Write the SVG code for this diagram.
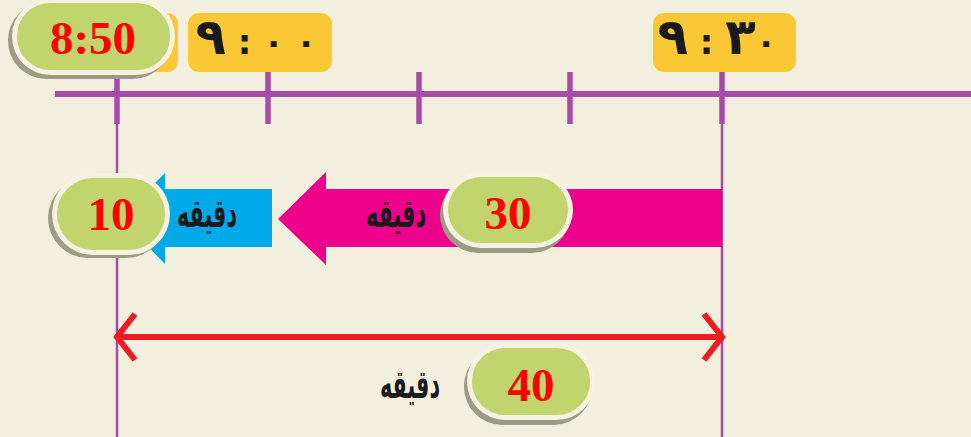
<svg xmlns="http://www.w3.org/2000/svg" width="971" height="437" viewBox="0 0 971 437">
<style>
.bg{fill:#F3EFDE}
.tl{stroke:#A84AA8;stroke-width:6;fill:none}
.tick{stroke:#A84AA8;stroke-width:5.5;fill:none}
.vl{stroke:#A84AA8;stroke-width:2.5;fill:none}
.ybox{fill:#FAC834}
.shadow{fill:#9C9C86}
.rim{fill:#F6F2E2}
.pill{fill:#C1D46D}
.num{font-family:"Liberation Serif",serif;font-weight:bold;font-size:47px;fill:#FF0000;text-anchor:middle}
.ar{font-family:"DejaVu Sans",sans-serif;font-weight:bold;font-size:40px;fill:#1A1A1A;text-anchor:middle}
.time{font-family:"DejaVu Sans",sans-serif;font-weight:bold;font-size:34px;fill:#1A1A1A;text-anchor:middle;direction:ltr;unicode-bidi:bidi-override}
.big{font-size:50px}
.red{stroke:#EC1C24;stroke-width:6;fill:none}
</style>
<defs>
<marker id="chev" viewBox="0 0 20 48" refX="19" refY="24" markerWidth="20" markerHeight="48" markerUnits="userSpaceOnUse" orient="auto-start-reverse" overflow="visible">
<path d="M1,1 L19,24 L1,47" stroke="#EC1C24" stroke-width="6" fill="none"/>
</marker>
</defs>
<rect class="bg" x="0" y="0" width="971" height="437"/>

<g id="timeline">
<line class="tl" x1="55" y1="94" x2="971" y2="94"/>
<line class="tick" x1="117" y1="70" x2="117" y2="124"/>
<line class="tick" x1="268" y1="70" x2="268" y2="124"/>
<line class="tick" x1="419" y1="72" x2="419" y2="124"/>
<line class="tick" x1="570" y1="72" x2="570" y2="124"/>
<line class="tick" x1="722" y1="70" x2="722" y2="124"/>
<line class="vl" x1="117" y1="122" x2="117" y2="437"/>
<line class="vl" x1="722" y1="122" x2="722" y2="437"/>
</g>

<g id="time-900">
<rect class="ybox" x="188" y="13" width="144" height="59" rx="11"/>
<text class="time" x="256" y="54"><tspan class="big">٩</tspan> : ٠ ٠</text>
</g>

<g id="time-930">
<rect class="ybox" x="653" y="13" width="143" height="59" rx="11"/>
<text class="time" x="717" y="54"><tspan class="big">٩</tspan> : <tspan class="big">٣</tspan>٠</text>
</g>

<g id="time-850">
<rect class="ybox" x="34" y="13" width="144" height="59" rx="11"/>
<rect class="shadow" x="8" y="2" width="163" height="77" rx="38"/>
<rect class="rim" x="12" y="-2" width="163" height="77" rx="38"/>
<rect class="pill" x="17" y="3" width="153" height="67" rx="33"/>
<text class="num" x="93" y="54">8:50</text>
</g>

<g id="arrow-30">
<polygon fill="#EC008C" points="722,189 326,189 326,172 278,219 326,265 326,247 722,247"/>
<text class="ar" x="396" y="227" textLength="60" lengthAdjust="spacingAndGlyphs">دقيقه</text>
</g>

<g id="arrow-10">
<polygon fill="#00A9E8" points="272,189 165,189 165,173 120,218 165,264 165,247 272,247"/>
<text class="ar" x="207" y="227" textLength="60" lengthAdjust="spacingAndGlyphs">دقيقه</text>
</g>

<g id="pill-10">
<rect class="shadow" x="48" y="178" width="118" height="80" rx="40"/>
<rect class="rim" x="52" y="173" width="118" height="82" rx="41"/>
<rect class="pill" x="57" y="178" width="108" height="72" rx="36"/>
<text class="num" x="111" y="230">10</text>
</g>

<g id="pill-30">
<rect class="shadow" x="440" y="177" width="130" height="76" rx="38"/>
<rect class="rim" x="443" y="172" width="130" height="76" rx="38"/>
<rect class="pill" x="448" y="177" width="120" height="66" rx="33"/>
<text class="num" x="508" y="229">30</text>
</g>

<g id="connectors">
<line class="red" x1="117" y1="337" x2="722" y2="337" marker-start="url(#chev)" marker-end="url(#chev)"/>
</g>

<g id="pill-40">
<rect class="shadow" x="464" y="348" width="128" height="77" rx="38"/>
<rect class="rim" x="467" y="343" width="128" height="77" rx="38"/>
<rect class="pill" x="472" y="348" width="118" height="67" rx="33"/>
<text class="num" x="531" y="401">40</text>
</g>

<g id="label-40">
<text class="ar" x="410" y="398" textLength="60" lengthAdjust="spacingAndGlyphs">دقيقه</text>
</g>
</svg>
